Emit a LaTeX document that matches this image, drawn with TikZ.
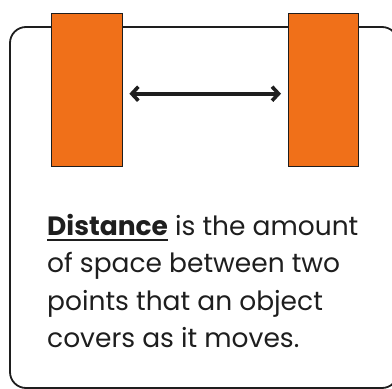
\documentclass[tikz,border=0pt]{standalone}
\usepackage{fontspec}
\setmainfont{Poppins}
\usetikzlibrary{arrows.meta}
\definecolor{boxorange}{HTML}{F07019}
\definecolor{ink}{HTML}{1E1E1E}
\newcommand\myul[1]{\setbox0\hbox{#1}\rlap{\rule[-5.5pt]{\wd0}{2.2pt}}\box0}
\tikzset{
  block/.style={draw=ink, line width=1.4pt, fill=boxorange},
  frame/.style={draw=ink, line width=1.8pt, rounded corners=16pt},
  dist/.style={draw=ink, line width=3.8pt, {Straight Barb[length=6.5pt,width=14pt,line width=3.6pt]}-{Straight Barb[length=6.5pt,width=14pt,line width=3.6pt]}},
  txt/.style={text=ink, font=\fontsize{26.5pt}{37.5pt}\selectfont, align=left, anchor=north west, inner sep=0pt}
}
\begin{document}
\begin{tikzpicture}[x=1pt,y=-1pt]
\useasboundingbox (0,0) rectangle (392,389);
\begin{scope}
\clip (0,0) rectangle (392,389);
\draw[frame] (10,27) rectangle (398,388);
\end{scope}
\node[block, minimum width=71pt, minimum height=153pt, inner sep=0pt, anchor=north west] (left) at (51,13) {};
\node[block, minimum width=70pt, minimum height=153pt, inner sep=0pt, anchor=north west] (right) at (288,13) {};
\coordinate (la) at ([xshift=6pt,yshift=-3.5pt]left.east);
\coordinate (ra) at ([xshift=-7pt,yshift=-3.5pt]right.west);
\draw[dist] (la) -- (ra);
\node[txt] (text) at (47,214) {\myul{\textbf{Distance}}\ is the amount\\of space between two\\points that an object\\covers as it moves.};
\end{tikzpicture}
\end{document}
